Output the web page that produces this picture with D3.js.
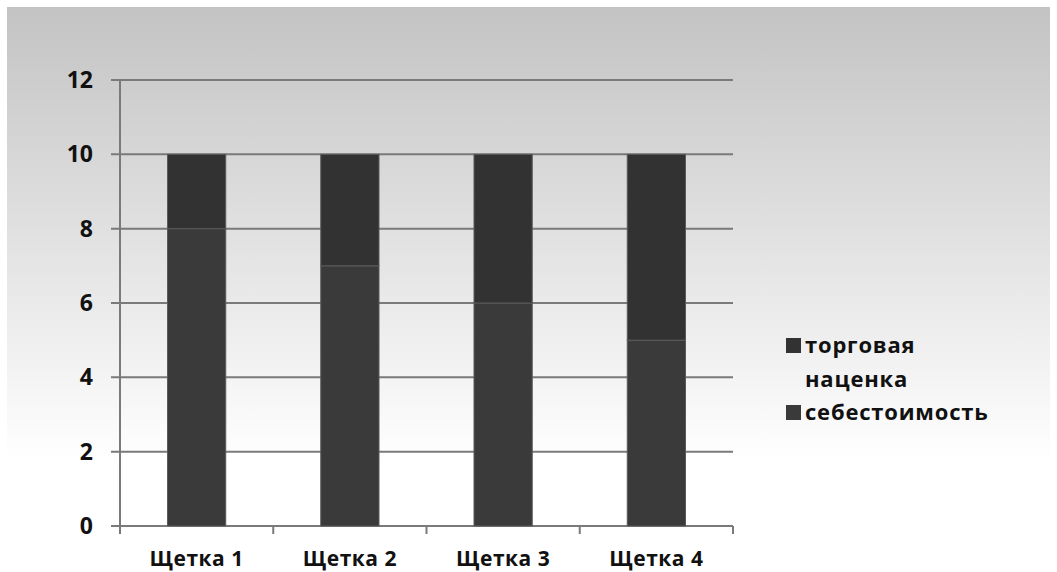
<!DOCTYPE html>
<html>
<head>
<meta charset="utf-8">
<script src="https://d3js.org/d3.v7.min.js"></script>
<style>
  html, body { margin: 0; padding: 0; background: #fff; }
  svg { display: block; }
</style>
</head>
<body>
<svg id="chart" width="1057" height="572"></svg>
<script>
// ── Data ──
const categories = ['Щетка 1', 'Щетка 2', 'Щетка 3', 'Щетка 4'];
const cost = [8, 7, 6, 5];        // себестоимость
const markup = [2, 3, 4, 5];      // торговая наценка
const seriesNames = ['себестоимость', 'торговая наценка'];
const yTicks = [0, 2, 4, 6, 8, 10, 12];

const W = 1057, H = 572;
const m = { left: 120, right: 324, top: 80, bottom: 46 };
const FONT = '"Open Sans", "Noto Sans", sans-serif';
const colors = { cost: '#3a3a3a', markup: '#323232' };

const svg = d3.select('#chart');

// Background gradient
const defs = svg.append('defs');
const grad = defs.append('linearGradient').attr('id', 'bg').attr('x1', 0).attr('y1', 0).attr('x2', 0).attr('y2', 1);
grad.append('stop').attr('offset', '0%').attr('stop-color', '#c3c3c3');
grad.append('stop').attr('offset', '100%').attr('stop-color', '#ffffff');
svg.append('rect').attr('width', W).attr('height', H).attr('fill', '#fff');
svg.append('rect').attr('x', 7).attr('y', 7).attr('width', W - 14).attr('height', 455).attr('fill', 'url(#bg)');

const x = d3.scaleBand().domain(categories).range([m.left, W - m.right]).paddingInner(0.62).paddingOuter(0.31);
const xb = d3.scaleBand().domain(categories).range([m.left, W - m.right]);
const y = d3.scaleLinear().domain([0, 12]).range([H - m.bottom, m.top]);

// Gridlines
svg.append('g').selectAll('line').data(yTicks).enter().append('line')
  .attr('x1', m.left - 9).attr('x2', W - m.right)
  .attr('y1', d => y(d)).attr('y2', d => y(d))
  .attr('stroke', '#7a7a7a').attr('stroke-width', 2);

// Stacked bars
const rows = categories.map((c, i) => ({ cat: c, cost: cost[i], markup: markup[i] }));
const stack = d3.stack().keys(['cost', 'markup'])(rows);
svg.append('g').selectAll('g').data(stack).enter().append('g')
  .attr('fill', d => colors[d.key])
  .selectAll('rect').data(d => d).enter().append('rect')
  .attr('x', d => x(d.data.cat))
  .attr('width', x.bandwidth())
  .attr('y', d => y(d[1]))
  .attr('height', d => y(d[0]) - y(d[1]))
  .attr('stroke', '#5a5a5a').attr('stroke-width', 1);

// Y axis line
svg.append('line').attr('x1', m.left).attr('x2', m.left)
  .attr('y1', y(12)).attr('y2', y(0) + 8)
  .attr('stroke', '#7a7a7a').attr('stroke-width', 2);

// X axis ticks at category boundaries
const bounds = categories.map(c => xb(c) + xb.bandwidth());
svg.append('g').selectAll('line').data(bounds).enter().append('line')
  .attr('x1', d => d).attr('x2', d => d)
  .attr('y1', y(0)).attr('y2', y(0) + 8)
  .attr('stroke', '#7a7a7a').attr('stroke-width', 2);

// Y labels
svg.append('g').selectAll('text').data(yTicks).enter().append('text')
  .attr('x', 93).attr('y', d => y(d)).attr('dy', '0.35em')
  .attr('text-anchor', 'end')
  .attr('font-family', FONT).attr('font-weight', 700).attr('font-size', 23)
  .attr('fill', '#111').text(d => d);

// X labels
svg.append('g').selectAll('text').data(categories).enter().append('text')
  .attr('x', d => xb(d) + xb.bandwidth() / 2).attr('y', y(0) + 40)
  .attr('text-anchor', 'middle')
  .attr('font-family', FONT).attr('font-weight', 700).attr('font-size', 21)
  .attr('letter-spacing', 0.5)
  .attr('fill', '#111').text(d => d);

// Legend
const legend = [
  { name: seriesNames[1], lines: ['торговая', 'наценка'], color: colors.markup, y: 353 },
  { name: seriesNames[0], lines: ['себестоимость'], color: colors.cost, y: 420 }
];
const lg = svg.append('g').selectAll('g').data(legend).enter().append('g');
lg.append('rect').attr('x', 786).attr('y', d => d.y - 15).attr('width', 15).attr('height', 15)
  .attr('fill', d => d.color);
lg.append('text')
  .attr('font-family', FONT).attr('font-weight', 700).attr('font-size', 22).attr('fill', '#111')
  .attr('letter-spacing', 0.8)
  .selectAll('tspan').data(d => d.lines.map((l, i) => ({ l, i, y0: d.y }))).enter().append('tspan')
  .attr('x', 805).attr('y', d => d.y0 + d.i * 34).text(d => d.l);
</script>
</body>
</html>
